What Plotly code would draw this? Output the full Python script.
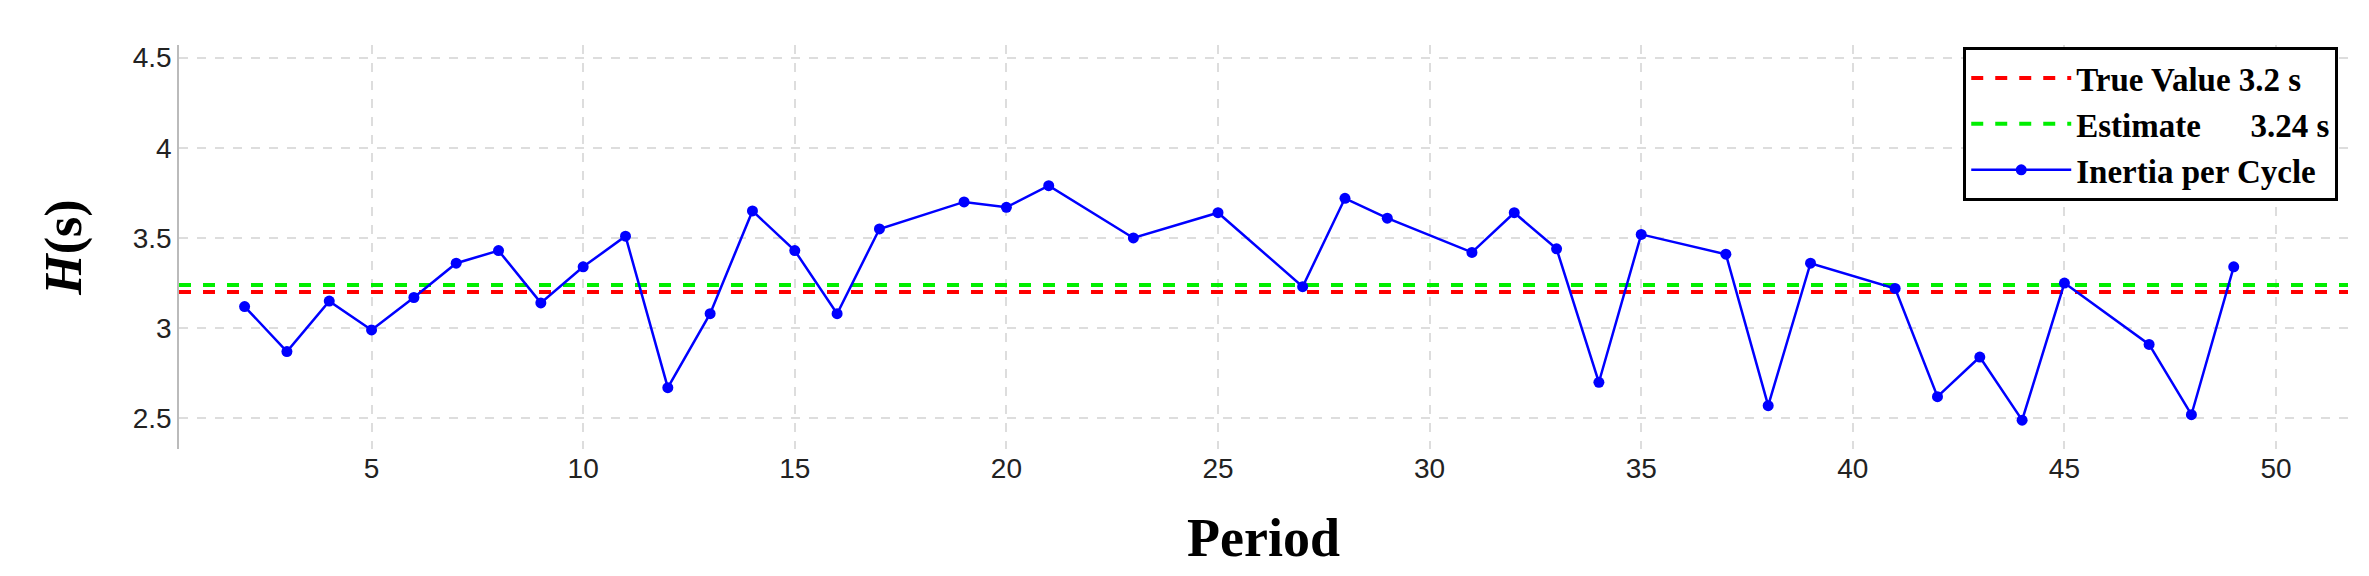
import plotly.graph_objects as go

periods = [2,3,4,5,6,7,8,9,10,11,12,13,14,15,16,17,19,20,21,23,25,27,28,29,31,32,33,34,35,37,38,39,41,42,43,44,45,47,48,49]
inertia = [3.12,2.87,3.15,2.99,3.17,3.36,3.43,3.14,3.34,3.51,2.67,3.08,3.65,3.43,3.08,3.55,3.70,3.67,3.79,3.50,3.64,3.23,3.72,3.61,3.42,3.64,3.44,2.70,3.52,3.41,2.57,3.36,3.22,2.62,2.84,2.49,3.25,2.91,2.52,3.34]
true_value = 3.2
estimate = 3.24
x_line = [0.45, 51.7]

fig = go.Figure()
fig.add_trace(go.Scatter(x=x_line, y=[true_value]*2, mode="lines", name="<b>True Value 3.2 s</b>",
                         line=dict(color="#ff0000", width=4, dash="dash")))
fig.add_trace(go.Scatter(x=x_line, y=[estimate]*2, mode="lines", name="<b>Estimate      3.24 s</b>",
                         line=dict(color="#00ee00", width=4, dash="dash")))
fig.add_trace(go.Scatter(x=periods, y=inertia, mode="lines+markers", name="<b>Inertia per Cycle</b>",
                         line=dict(color="#0000ff", width=2.5), marker=dict(size=11, color="#0000ff")))

grid = dict(showgrid=True, gridcolor="#dddddd", griddash="dash", gridwidth=1.5, zeroline=False)
fig.update_layout(
    width=2369, height=576, paper_bgcolor="white", plot_bgcolor="white",
    margin=dict(l=171, r=29, t=37, b=135),
    font=dict(family="Liberation Sans Narrow, Liberation Sans, Arial", size=28, color="#222"),
    xaxis=dict(range=[0.45, 51.7], tickvals=[5,10,15,20,25,30,35,40,45,50], ticks="", **grid,
               title=dict(text="<b>Period</b>", font=dict(family="Liberation Serif, Times New Roman", size=54, color="black"), standoff=35)),
    yaxis=dict(range=[2.33, 4.57], tickvals=[2.5,3,3.5,4,4.5], ticktext=["2.5","3","3.5","4","4.5"], ticks="", **grid,
               showline=True, linecolor="#bbbbbb", linewidth=1.5,
               title=dict(text="<b><i>H</i>(s)</b>", font=dict(family="Liberation Serif, Times New Roman", size=52, color="black"), standoff=35)),
    legend=dict(x=0.9955, y=0.995, xanchor="right", yanchor="top", bgcolor="white",
                bordercolor="black", borderwidth=3,
                font=dict(family="Liberation Serif, Times New Roman", size=33, color="black"),
                itemwidth=100),
    showlegend=True,
)
fig.write_html("out.html")
